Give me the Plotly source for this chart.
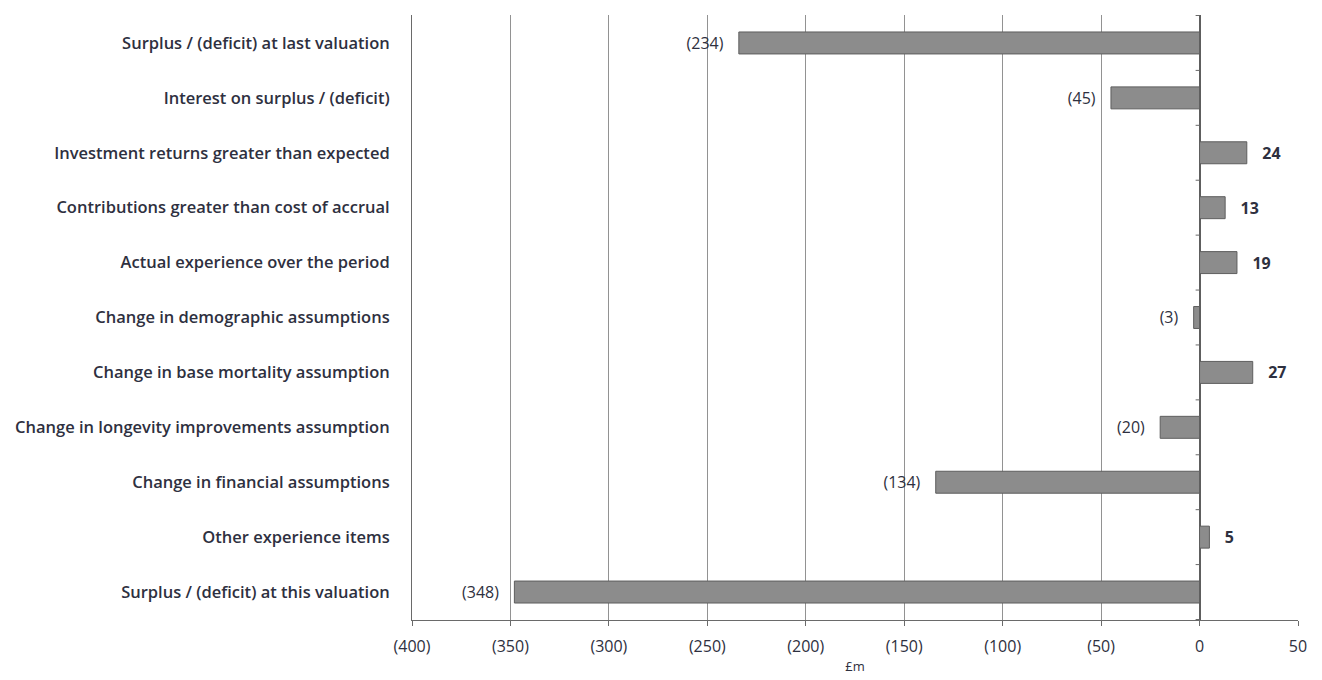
import plotly.graph_objects as go

categories = [
    "Surplus / (deficit) at last valuation",
    "Interest on surplus / (deficit)",
    "Investment returns greater than expected",
    "Contributions greater than cost of accrual",
    "Actual experience over the period",
    "Change in demographic assumptions",
    "Change in base mortality assumption",
    "Change in longevity improvements assumption",
    "Change in financial assumptions",
    "Other experience items",
    "Surplus / (deficit) at this valuation",
]
values = [-234, -45, 24, 13, 19, -3, 27, -20, -134, 5, -348]
tick_vals = [-400, -350, -300, -250, -200, -150, -100, -50, 0, 50]
tick_text = ["(400)", "(350)", "(300)", "(250)", "(200)", "(150)", "(100)", "(50)", "0", "50"]

PAD = "\u00a0\u00a0\u00a0"

def fmt(v):
    return f"({abs(v)}){PAD}" if v < 0 else f"{PAD}<b>{v}</b>"

labels = [fmt(v) for v in values]

FONT = "Open Sans"
TXT = "#2e3040"

fig = go.Figure()
fig.add_trace(go.Bar(
    y=categories,
    x=values,
    orientation="h",
    marker=dict(color="#8c8c8c", line=dict(color="#5e5e5e", width=1)),
    text=labels,
    textposition="outside",
    cliponaxis=False,
    textfont=dict(family=FONT, size=16, color=TXT),
    hoverinfo="skip",
))

# small tick marks on the vertical axis at x = 0 between categories
for i in range(len(categories) + 1):
    fig.add_shape(type="line", xref="x", yref="y",
                  x0=-2, x1=0, y0=i - 0.5, y1=i - 0.5,
                  line=dict(color="#6a6a6a", width=1))

fig.update_layout(
    width=1322,
    height=680,
    margin=dict(l=404, r=32, t=7, b=68),
    plot_bgcolor="white",
    paper_bgcolor="white",
    bargap=0.6,
    showlegend=False,
    font=dict(family=FONT, color=TXT),
)

fig.update_xaxes(
    range=[-400, 50],
    tickvals=tick_vals,
    ticktext=tick_text,
    showgrid=True,
    gridcolor="#929292",
    gridwidth=1,
    zeroline=True,
    zerolinecolor="#5e5e5e",
    zerolinewidth=1.5,
    showline=True,
    linecolor="#6a6a6a",
    linewidth=1,
    ticks="outside",
    ticklen=5,
    tickcolor="#6a6a6a",
    tickfont=dict(family=FONT, size=16, color=TXT),
    ticklabelstandoff=7,
    title=dict(text="£m", font=dict(family=FONT, size=13, color=TXT), standoff=5),
    automargin=False,
)

fig.update_yaxes(
    autorange="reversed",
    showgrid=False,
    showline=True,
    linecolor="#6a6a6a",
    linewidth=1,
    ticks="",
    tickfont=dict(family=FONT, size=16.5, color=TXT, weight=600),
    ticklabelstandoff=18,
    automargin=False,
)

fig.write_html("out.html")
